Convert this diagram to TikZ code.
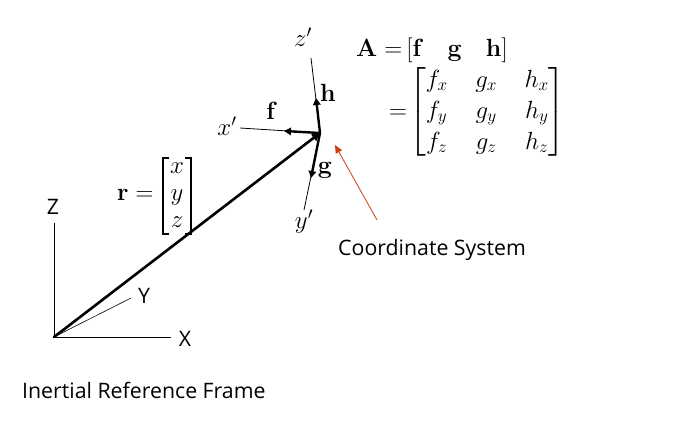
\documentclass[tikz,border=0pt]{standalone}
\usepackage{amsmath}
\usepackage[no-math]{fontspec}
\setmainfont{Open Sans}
\usetikzlibrary{arrows.meta}
\definecolor{redarrow}{RGB}{208,62,20}
\tikzset{
  thinax/.style={line width=0.8pt,black},
  thickax/.style={line width=2.4pt,black,-{Triangle[length=7pt,width=7.5pt]}},
  brk/.style={line width=1.1pt,black},
  lab/.style={inner sep=0pt,font=\fontsize{21.3}{25}\selectfont},
  mth/.style={inner sep=0pt,font=\fontsize{26}{31}\selectfont},
  mthr/.style={inner sep=0pt,font=\fontsize{26}{27}\selectfont},
}
\begin{document}
\begin{tikzpicture}[x=1pt,y=-1pt]
\useasboundingbox (0,0) rectangle (699,422);
\coordinate (O) at (54,337);
\coordinate (Zend) at (54,223);
\coordinate (Xend) at (171,337);
\coordinate (Yend) at (131,298);
\coordinate (T) at (320,133);
\coordinate (zp) at (311,58);
\coordinate (xp) at (240,128);
\coordinate (yp) at (304,210);
\coordinate (hh) at (316,98);
\coordinate (ff) at (284,131);
\coordinate (gg) at (311,178);
\coordinate (rs) at (377,220);
\coordinate (re) at (335,145);
\draw[thinax] (O) -- (Zend);
\draw[thinax] (O) -- (Xend);
\draw[thinax,line width=0.6pt] (O) -- (Yend);
\draw[line width=2.6pt,line cap=round,-{Triangle[length=8pt,width=8pt]}] (O) -- (T);
\draw[thinax] (T) -- (zp);
\draw[thinax] (T) -- (xp);
\draw[thinax] (T) -- (yp);
\draw[thickax] (T) -- (hh);
\draw[thickax] (T) -- (ff);
\draw[thickax] (T) -- (gg);
\draw[redarrow,line width=0.8pt,-{Triangle[length=8pt,width=7pt]}] (rs) -- (re);
\node[lab] (LZ) at (53,207) {Z};
\node[lab] (LX) at (185,339) {X};
\node[lab] (LY) at (144,296) {Y};
\node[lab,anchor=west] (LC) at (338,250) {Coordinate System};
\node[lab,anchor=west] (LI) at (22,390) {Inertial Reference Frame};
\node[mth] (Lzp) at (303,37) {$z'$};
\node[mth] (Lxp) at (227,126) {$x'$};
\node[mth] (Lyp) at (304,222) {$y'$};
\node[mth] (Lh) at (328,93) {$\mathbf{h}$};
\node[mth] (Lf) at (272,111) {$\mathbf{f}$};
\node[mth] (Lg) at (325,170) {$\mathbf{g}$};
\node[mthr,anchor=west] (Lr) at (117,195) {$\mathbf{r}=$};
\node[mthr] (Lrm) at (177,195) {$\begin{matrix}x\\y\\z\end{matrix}$};
\draw[brk] ([shift={(6,0)}]Lrm.center) ++(2,-37) -- ++(6,0) -- ++(0,76) -- ++(-6,0);
\draw[brk] ([shift={(-6,0)}]Lrm.center) ++(-2,-37) -- ++(-6,0) -- ++(0,76) -- ++(6,0);
\node[mth,anchor=west] (LA) at (356,50) {$\mathbf{A}=\mkern-2mu[\mathbf{f}\hspace{24pt}\mathbf{g}\hspace{24pt}\mathbf{h}]$};
\node[mth,anchor=west] (LM) at (389,112) {\setlength{\arraycolsep}{13.8pt}$=\hspace{-5pt}\begin{bmatrix}f_x&g_x&h_x\\f_y&g_y&h_y\\f_z&g_z&h_z\end{bmatrix}$};
\end{tikzpicture}
\end{document}
